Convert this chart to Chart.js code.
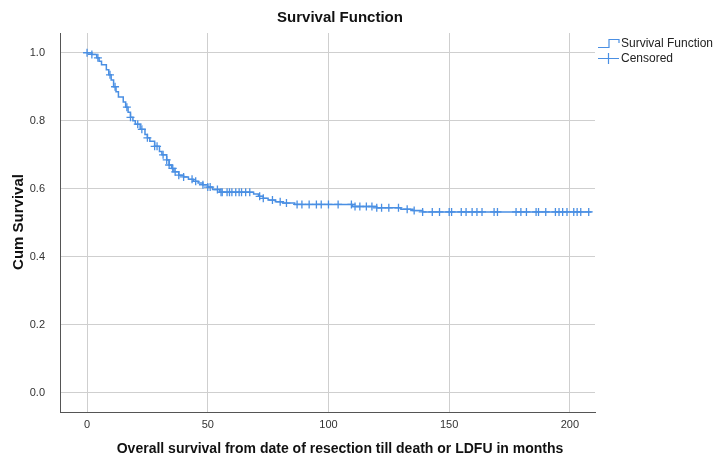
<!DOCTYPE html>
<html>
<head>
<meta charset="utf-8">
<script src="https://cdn.jsdelivr.net/npm/chart.js"></script>
<style>
  html, body { margin: 0; padding: 0; background: #fff; }
  #wrap { width: 714px; height: 457px; position: relative; }
</style>
</head>
<body>
<div id="wrap"><canvas id="km"></canvas></div>
<script>
// Kaplan-Meier steps (months, cumulative survival)
const eventTimes = [0, 2, 4, 5, 6, 8, 9, 10, 11, 12, 13, 15, 16, 17, 18, 19, 20, 22, 24, 25,
  26, 28, 30, 31, 33, 34, 35, 36, 38, 40, 42, 44, 46, 48, 50, 52, 55, 69, 71, 73,
  75, 78, 81, 86, 110, 120, 130, 135, 139, 209];
const survival = [1, 0.995, 0.985, 0.975, 0.965, 0.95, 0.935, 0.92, 0.9, 0.885, 0.87, 0.855, 0.84, 0.825, 0.81, 0.8, 0.79, 0.775, 0.76, 0.75,
  0.74, 0.725, 0.71, 0.7, 0.685, 0.67, 0.66, 0.65, 0.64, 0.635, 0.628, 0.622, 0.617, 0.612, 0.605, 0.598, 0.59, 0.585, 0.578, 0.572,
  0.567, 0.562, 0.558, 0.554, 0.548, 0.544, 0.54, 0.536, 0.532, 0.532];
const censoredTimes = [0, 2, 4.5, 9.5, 11.6, 16.5, 18, 21, 22.7, 25, 28, 29, 31.5, 33, 34, 35.5, 36.5, 38, 40, 43.5,
  45, 48, 50, 51, 54, 55.5, 56, 58, 59, 60, 61.6, 63, 64, 65.7, 67.4, 71.5, 73, 76.8, 80, 82.6, 87, 89, 92,
  95, 97, 100, 104, 109.5, 111, 113, 115.7, 118, 120, 122, 125, 129, 132.6, 135.5, 139, 143, 146, 150, 151,
  155, 157, 159.5, 161.5, 163.6, 168.6, 170, 177.7, 179.7, 182, 186, 187, 190, 194, 195.5, 197, 198.8, 201.6, 203, 204.5, 207.8];
const xTicks = [0, 50, 100, 150, 200];
const yTicks = [0, 0.2, 0.4, 0.6, 0.8, 1.0];

const BLUE = '#4a8fe3';
const FONT = '"Liberation Sans", Arial, sans-serif';

// survival level at time t (censor marks sit on the curve)
function survAt(t) {
  let s = survival[0];
  for (let i = 0; i < eventTimes.length; i++) {
    if (eventTimes[i] <= t) s = survival[i];
    else break;
  }
  return s;
}

const curve = eventTimes.map((t, i) => ({ x: t, y: survival[i] }));
const censored = censoredTimes.map(t => ({ x: t, y: survAt(t) }));

// titles + legend drawn by hand so they sit where SPSS puts them
const textPlugin = {
  id: 'spssText',
  afterDraw(chart) {
    const ctx = chart.ctx;
    ctx.save();
    ctx.fillStyle = '#111';
    ctx.textAlign = 'center';
    ctx.textBaseline = 'middle';
    ctx.font = 'bold 15px ' + FONT;
    ctx.fillText('Survival Function', 340, 18);
    ctx.save();
    ctx.translate(19, 222);
    ctx.rotate(-Math.PI / 2);
    ctx.fillText('Cum Survival', 0, 0);
    ctx.restore();
    ctx.font = 'bold 14px ' + FONT;
    ctx.fillText('Overall survival from date of resection till death or LDFU in months', 340, 449);

    // legend
    const lx = chart.chartArea.right + 3;
    ctx.strokeStyle = BLUE;
    ctx.lineWidth = 1.2;
    ctx.beginPath();
    ctx.moveTo(lx, 47.5); ctx.lineTo(lx + 11, 47.5); ctx.lineTo(lx + 11, 39.5);
    ctx.lineTo(lx + 21, 39.5); ctx.lineTo(lx + 21, 43);
    ctx.stroke();
    ctx.beginPath();
    ctx.moveTo(lx, 58.5); ctx.lineTo(lx + 21, 58.5);
    ctx.moveTo(lx + 10.5, 53); ctx.lineTo(lx + 10.5, 64);
    ctx.stroke();
    ctx.fillStyle = '#222';
    ctx.font = '12px ' + FONT;
    ctx.textAlign = 'left';
    ctx.fillText(chart.data.datasets[0].label, lx + 23, 44);
    ctx.fillText(chart.data.datasets[1].label, lx + 23, 59);
    ctx.restore();
  }
};

new Chart(document.getElementById('km').getContext('2d'), {
  type: 'scatter',
  data: {
    datasets: [
      {
        label: 'Survival Function',
        data: curve,
        showLine: true,
        stepped: true,
        borderColor: BLUE,
        borderWidth: 1.5,
        pointRadius: 0,
        fill: false
      },
      {
        label: 'Censored',
        data: censored,
        showLine: false,
        pointStyle: 'cross',
        pointRadius: 4,
        borderColor: BLUE,
        borderWidth: 1.3,
        backgroundColor: BLUE
      }
    ]
  },
  options: {
    responsive: true,
    maintainAspectRatio: false,
    animation: false,
    layout: { padding: { top: 33, right: 119, bottom: 0, left: 0 } },
    scales: {
      x: {
        type: 'linear',
        min: -11.2,
        max: 210.4,
        afterFit(scale) { scale.height = 45; },
        afterBuildTicks(scale) { scale.ticks = xTicks.map(v => ({ value: v })); },
        grid: { color: '#cfcfcf', drawTicks: false },
        border: { color: '#555', width: 1 },
        ticks: { color: '#333', font: { size: 11, family: FONT }, padding: 6 }
      },
      y: {
        type: 'linear',
        min: -0.056,
        max: 1.058,
        afterFit(scale) { scale.width = 60; },
        afterBuildTicks(scale) { scale.ticks = yTicks.map(v => ({ value: v })); },
        grid: { color: '#cfcfcf', drawTicks: false },
        border: { color: '#555', width: 1 },
        ticks: {
          color: '#333',
          font: { size: 11, family: FONT },
          padding: 15,
          callback: v => v.toFixed(1)
        }
      }
    },
    plugins: {
      legend: { display: false },
      title: { display: false },
      tooltip: { enabled: false }
    }
  },
  plugins: [textPlugin]
});
</script>
</body>
</html>
